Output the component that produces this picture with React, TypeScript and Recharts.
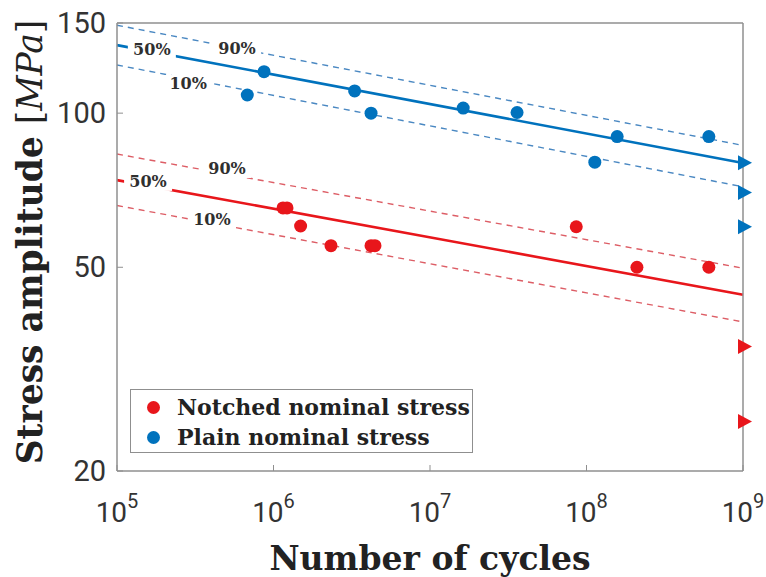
import React from 'react';
import {
  ComposedChart,
  Line,
  Scatter,
  XAxis,
  YAxis,
  ReferenceDot,
  Legend,
} from 'recharts';

// Axis ticks
const cycleTicks = [1e5, 1e6, 1e7, 1e8, 1e9];
const cycleExponents = [5, 6, 7, 8, 9];
const stressTicks = [20, 50, 100, 150];

// Failed specimens
const plainCycles = [6.8e5, 8.7e5, 3.3e6, 4.2e6, 1.63e7, 3.6e7, 1.13e8, 1.57e8, 6.05e8];
const plainStress = [108.5, 120.5, 110.5, 100, 102.3, 100.3, 80.2, 90, 90];
const notchedCycles = [1.15e6, 1.22e6, 1.49e6, 2.33e6, 4.2e6, 4.45e6, 8.6e7, 2.1e8, 6.05e8];
const notchedStress = [65.3, 65.3, 60.2, 55.1, 55.1, 55.1, 60, 50, 50];

// Run-outs at the end of the test
const runoutCycles = 1e9;
const plainRunoutStress = [80, 70, 60];
const notchedRunoutStress = [35, 25];

// Basquin fits (median and 10% / 90% bands)
const fitCycles = [1e5, 1e9];
const plainFit50 = [135.8, 79.9];
const plainFit90 = [148.5, 86.5];
const plainFit10 = [124.2, 71.8];
const notchedFit50 = [74.0, 44.2];
const notchedFit90 = [83.2, 49.8];
const notchedFit10 = [66.0, 39.1];

// Band labels
const bandNames = ['50%', '90%', '10%'];
const plainBandLabelCycles = [1.67e5, 5.85e5, 2.85e5];
const plainBandLabelStress = [132.9, 133.5, 114.0];
const notchedBandLabelCycles = [1.58e5, 5.05e5, 4.04e5];
const notchedBandLabelStress = [73.4, 77.8, 61.8];

// Legend
const seriesNames = ['Notched nominal stress', 'Plain nominal stress'];

const BLUE = '#0072BD';
const RED = '#E8161B';
const BLUE_DASH = '#4a88c2';
const RED_DASH = '#dd5e66';
const FRAME = '#8f8f8f';
const SERIF = '"DejaVu Serif", serif';
const SANS = 'Roboto, "Open Sans", sans-serif';

const toPoints = (xs: number[], ys: number[]) => xs.map((x, i) => ({ x, y: ys[i] }));

const seriesColors = [RED, BLUE];

const Dot = (color: string) => (p: any) => (
  <circle cx={p.cx} cy={p.cy} r={6.5} fill={color} />
);

const Runout = (color: string) => (p: any) => (
  <path
    d={`M${p.cx - 5},${p.cy - 7.5} L${p.cx + 9},${p.cy} L${p.cx - 5},${p.cy + 7.5} Z`}
    fill={color}
  />
);

const BandLabel = (text: string) => (p: any) => (
  <g>
    <rect x={p.cx - 24} y={p.cy - 9} width={48} height={18} fill="#fff" />
    <text
      x={p.cx}
      y={p.cy + 5}
      textAnchor="middle"
      fontFamily={SERIF}
      fontWeight="bold"
      fontSize={16}
      fill="#2f2f2f"
    >
      {text}
    </text>
  </g>
);

const BottomTick = (p: any) => {
  const i = cycleTicks.indexOf(p.payload.value);
  return (
    <g>
      <line x1={p.x} x2={p.x} y1={p.y} y2={p.y - 6} stroke={FRAME} strokeWidth={1} />
      <text x={p.x} y={p.y + 51} textAnchor="middle" fontFamily={SANS} fontSize={28} fill="#333">
        <tspan>10</tspan>
        <tspan dy={-14} fontSize={20}>
          {cycleExponents[i]}
        </tspan>
      </text>
    </g>
  );
};

const TopTick = (p: any) => (
  <line x1={p.x} x2={p.x} y1={p.y} y2={p.y + 6} stroke={FRAME} strokeWidth={1} />
);

const LeftTick = (p: any) => (
  <g>
    <line x1={p.x} x2={p.x + 6} y1={p.y} y2={p.y} stroke={FRAME} strokeWidth={1} />
    <text x={p.x - 11} y={p.y + 10} textAnchor="end" fontFamily={SANS} fontSize={29} fill="#333">
      {p.payload.value}
    </text>
  </g>
);

const RightTick = (p: any) => (
  <line x1={p.x} x2={p.x - 6} y1={p.y} y2={p.y} stroke={FRAME} strokeWidth={1} />
);

const XTitle = (p: any) => {
  const vb = p.viewBox;
  return (
    <text
      x={vb.x + vb.width / 2}
      y={570}
      textAnchor="middle"
      fontFamily={SERIF}
      fontWeight="bold"
      fontSize={33}
      fill="#222"
    >
      Number of cycles
    </text>
  );
};

const YTitle = (p: any) => {
  const vb = p.viewBox;
  const cx = 42;
  const cy = vb.y + vb.height / 2 - 5;
  return (
    <text
      x={cx}
      y={cy}
      transform={`rotate(-90, ${cx}, ${cy})`}
      textAnchor="middle"
      fontFamily={SERIF}
      fontSize={34.5}
      fill="#222"
    >
      <tspan fontWeight="bold">Stress amplitude </tspan>
      <tspan>[</tspan>
      <tspan fontStyle="italic">MPa</tspan>
      <tspan>]</tspan>
    </text>
  );
};

const LegendBox = () => (
  <div
    style={{
      width: 343,
      height: 64,
      boxSizing: 'border-box',
      border: `1.5px solid ${FRAME}`,
      background: '#fff',
      position: 'relative',
    }}
  >
    {seriesNames.map((name, i) => (
      <div
        key={name}
        style={{
          position: 'absolute',
          left: 16,
          top: 4 + i * 30,
          height: 26,
          display: 'flex',
          alignItems: 'center',
          whiteSpace: 'nowrap',
        }}
      >
        <span
          style={{
            display: 'inline-block',
            width: 13,
            height: 13,
            borderRadius: '50%',
            background: seriesColors[i],
            marginRight: 17,
          }}
        />
        <span
          style={{
            fontFamily: SERIF,
            fontWeight: 'bold',
            fontSize: 22,
            color: '#222',
          }}
        >
          {name}
        </span>
      </div>
    ))}
  </div>
);

export default function App() {
  return (
    <div style={{ position: 'absolute', left: 0, top: 0, width: 766, height: 577, background: '#fff' }}>
      <ComposedChart
        width={766}
        height={577}
        margin={{ top: 22, right: 22, bottom: 105, left: 116 }}
      >
        <XAxis
          dataKey="x"
          type="number"
          scale="log"
          domain={[1e5, 1e9]}
          ticks={cycleTicks}
          interval={0}
          height={1}
          tickSize={0}
          tickMargin={0}
          tickLine={false}
          axisLine={{ stroke: FRAME, strokeWidth: 1.5 }}
          tick={BottomTick}
          label={{ content: XTitle }}
        />
        <XAxis
          xAxisId="top"
          orientation="top"
          type="number"
          scale="log"
          domain={[1e5, 1e9]}
          ticks={cycleTicks}
          interval={0}
          height={1}
          tickSize={0}
          tickMargin={0}
          tickLine={false}
          axisLine={{ stroke: FRAME, strokeWidth: 1.5 }}
          tick={TopTick}
        />
        <YAxis
          dataKey="y"
          type="number"
          scale="log"
          domain={[20, 150]}
          ticks={stressTicks}
          interval={0}
          width={1}
          tickSize={0}
          tickMargin={0}
          tickLine={false}
          axisLine={{ stroke: FRAME, strokeWidth: 1.5 }}
          tick={LeftTick}
          label={{ content: YTitle }}
        />
        <YAxis
          yAxisId="right"
          orientation="right"
          type="number"
          scale="log"
          domain={[20, 150]}
          ticks={stressTicks}
          interval={0}
          width={1}
          tickSize={0}
          tickMargin={0}
          tickLine={false}
          axisLine={{ stroke: FRAME, strokeWidth: 1.5 }}
          tick={RightTick}
        />

        <Line data={toPoints(fitCycles, plainFit90)} dataKey="y" stroke={BLUE_DASH} strokeWidth={1.4} strokeDasharray="6 5" dot={false} isAnimationActive={false} />
        <Line data={toPoints(fitCycles, plainFit10)} dataKey="y" stroke={BLUE_DASH} strokeWidth={1.4} strokeDasharray="6 5" dot={false} isAnimationActive={false} />
        <Line data={toPoints(fitCycles, plainFit50)} dataKey="y" stroke={BLUE} strokeWidth={2.6} dot={false} isAnimationActive={false} />
        <Line data={toPoints(fitCycles, notchedFit90)} dataKey="y" stroke={RED_DASH} strokeWidth={1.4} strokeDasharray="6 5" dot={false} isAnimationActive={false} />
        <Line data={toPoints(fitCycles, notchedFit10)} dataKey="y" stroke={RED_DASH} strokeWidth={1.4} strokeDasharray="6 5" dot={false} isAnimationActive={false} />
        <Line data={toPoints(fitCycles, notchedFit50)} dataKey="y" stroke={RED} strokeWidth={2.6} dot={false} isAnimationActive={false} />

        {bandNames.map((name, i) => (
          <ReferenceDot
            key={`p${name}`}
            x={plainBandLabelCycles[i]}
            y={plainBandLabelStress[i]}
            shape={BandLabel(name)}
          />
        ))}
        {bandNames.map((name, i) => (
          <ReferenceDot
            key={`n${name}`}
            x={notchedBandLabelCycles[i]}
            y={notchedBandLabelStress[i]}
            shape={BandLabel(name)}
          />
        ))}

        <Scatter name={seriesNames[1]} data={toPoints(plainCycles, plainStress)} shape={Dot(BLUE)} isAnimationActive={false} />
        <Scatter name={seriesNames[0]} data={toPoints(notchedCycles, notchedStress)} shape={Dot(RED)} isAnimationActive={false} />
        <Scatter data={plainRunoutStress.map((y) => ({ x: runoutCycles, y }))} shape={Runout(BLUE)} isAnimationActive={false} legendType="none" />
        <Scatter data={notchedRunoutStress.map((y) => ({ x: runoutCycles, y }))} shape={Runout(RED)} isAnimationActive={false} legendType="none" />

        <Legend
          layout="horizontal"
          verticalAlign="middle"
          align="center"
          content={LegendBox}
          wrapperStyle={{ left: 130, top: 389, width: 343, height: 64 }}
        />
      </ComposedChart>
    </div>
  );
}
